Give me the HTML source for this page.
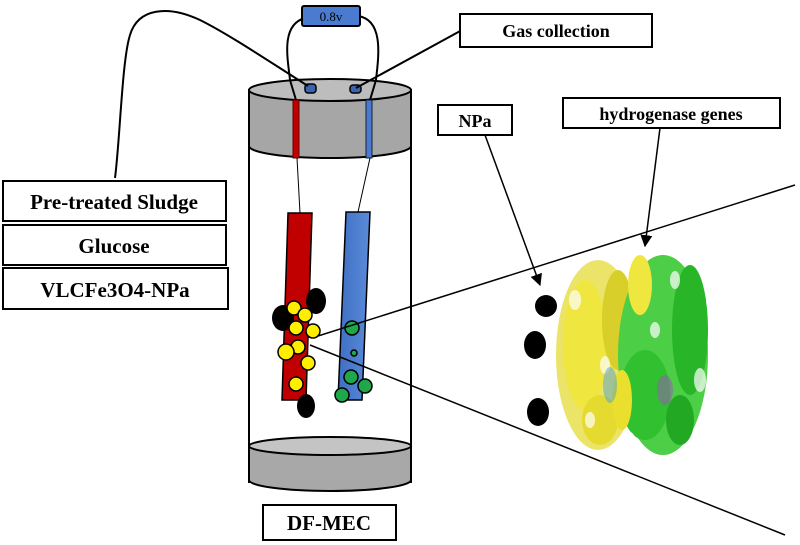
<!DOCTYPE html>
<html><head><style>
body{margin:0;background:#fff;}
svg{display:block;}
text{font-family:"Liberation Serif",serif;font-weight:bold;}
</style></head><body>
<svg width="800" height="545" viewBox="0 0 800 545" xmlns="http://www.w3.org/2000/svg">
<defs>
<marker id="ar" viewBox="0 0 10 10" refX="9" refY="5" markerWidth="8" markerHeight="8" orient="auto"><path d="M0,0 L10,5 L0,10z" fill="#000"/></marker>
<linearGradient id="bl" x1="0" x2="1"><stop offset="0" stop-color="#3e6fc4"/><stop offset="1" stop-color="#5b8ad8"/></linearGradient>
</defs>
<rect x="249" y="90" width="162" height="392" fill="#fff" stroke="#000" stroke-width="2"/>
<path d="M249,446 L249,480 A81,11 0 0 0 411,480 L411,446 Z" fill="#a8a8a8" stroke="#000" stroke-width="2"/>
<ellipse cx="330" cy="446" rx="81" ry="9" fill="#c4c4c4" stroke="#000" stroke-width="2"/>
<path d="M249,90 L249,146 A81,12 0 0 0 411,146 L411,90 Z" fill="#a6a6a6" stroke="#000" stroke-width="2"/>
<ellipse cx="330" cy="90" rx="81" ry="11" fill="#bdbdbd" stroke="#000" stroke-width="2"/>
<rect x="293" y="100" width="6" height="58" fill="#c00000" stroke="#600" stroke-width="1"/>
<rect x="366" y="100" width="6" height="58" fill="#4a7bd0" stroke="#123" stroke-width="1"/>
<rect x="305" y="84" width="11" height="9" rx="3" fill="#3a64b0" stroke="#000" stroke-width="1.5"/>
<rect x="350" y="85" width="11" height="8" rx="3" fill="#3a64b0" stroke="#000" stroke-width="1.5"/>
<path d="M305,18 C280,25 288,60 290,80 L296,100" fill="none" stroke="#000" stroke-width="2"/>
<path d="M358,16 C385,20 378,60 376,80 L370,100" fill="none" stroke="#000" stroke-width="2"/>
<path d="M115,178 C120,140 122,60 130,35 C138,8 168,5 200,20 C230,35 270,62 308,86" fill="none" stroke="#000" stroke-width="2"/>
<line x1="462" y1="30" x2="356" y2="88" stroke="#000" stroke-width="2"/>
<line x1="297" y1="158" x2="300" y2="213" stroke="#000" stroke-width="1"/>
<line x1="370" y1="158" x2="358" y2="212" stroke="#000" stroke-width="1"/>
<rect x="302" y="6" width="58" height="20" rx="2" fill="#4a7bd0" stroke="#000" stroke-width="2"/>
<text x="331" y="21" text-anchor="middle" font-size="13" style="font-weight:normal" fill="#000">0.8v</text>
<polygon points="288,213 312,213 306,400 282,400" fill="#c00000" stroke="#000" stroke-width="1.5"/>
<polygon points="346,212 370,212 362,400 338,400" fill="url(#bl)" stroke="#000" stroke-width="1.5"/>
<ellipse cx="316" cy="301" rx="10" ry="13" fill="#000"/>
<ellipse cx="283" cy="318" rx="11" ry="13" fill="#000"/>
<ellipse cx="306" cy="406" rx="9" ry="12" fill="#000"/>
<g fill="#ffee00" stroke="#000" stroke-width="1.5">
<circle cx="294" cy="308" r="7"/><circle cx="305" cy="315" r="7"/><circle cx="296" cy="328" r="7"/>
<circle cx="313" cy="331" r="7"/><circle cx="298" cy="347" r="7"/><circle cx="286" cy="352" r="8"/>
<circle cx="308" cy="363" r="7"/><circle cx="296" cy="384" r="7"/>
</g>
<g fill="#1fa84a" stroke="#000" stroke-width="1.5">
<circle cx="352" cy="328" r="7"/><circle cx="354" cy="353" r="3"/><circle cx="351" cy="377" r="7"/>
<circle cx="365" cy="386" r="7"/><circle cx="342" cy="395" r="7"/>
</g>
<line x1="318" y1="336" x2="795" y2="185" stroke="#000" stroke-width="1.5"/>
<line x1="310" y1="345" x2="785" y2="535" stroke="#000" stroke-width="1.5"/>
<g>
<ellipse cx="598" cy="355" rx="42" ry="95" fill="#ece468"/>
<ellipse cx="585" cy="345" rx="22" ry="65" fill="#f0e640"/>
<ellipse cx="618" cy="320" rx="16" ry="50" fill="#d9cf2a"/>
<ellipse cx="600" cy="420" rx="18" ry="25" fill="#e5db30"/>
<ellipse cx="663" cy="355" rx="45" ry="100" fill="#4ccf46"/>
<ellipse cx="690" cy="330" rx="18" ry="65" fill="#28b528"/>
<ellipse cx="645" cy="395" rx="25" ry="45" fill="#30c030"/>
<ellipse cx="680" cy="420" rx="14" ry="25" fill="#22a822"/>
<ellipse cx="622" cy="400" rx="10" ry="30" fill="#e9df2c"/>
<ellipse cx="640" cy="285" rx="12" ry="30" fill="#f0e640"/>
<g fill="#fff" opacity="0.7">
<ellipse cx="575" cy="300" rx="6" ry="10"/><ellipse cx="605" cy="365" rx="5" ry="9"/>
<ellipse cx="590" cy="420" rx="5" ry="8"/><ellipse cx="655" cy="330" rx="5" ry="8"/>
<ellipse cx="700" cy="380" rx="6" ry="12"/><ellipse cx="675" cy="280" rx="5" ry="9"/>
<ellipse cx="630" cy="440" rx="5" ry="8"/><ellipse cx="710" cy="300" rx="4" ry="10"/>
</g>
<ellipse cx="610" cy="385" rx="7" ry="18" fill="#52a0c8" opacity="0.5"/>
<ellipse cx="665" cy="390" rx="8" ry="15" fill="#a050c0" opacity="0.5"/>
</g>
<circle cx="546" cy="306" r="11" fill="#000"/>
<ellipse cx="535" cy="345" rx="11" ry="14" fill="#000"/>
<ellipse cx="538" cy="412" rx="11" ry="14" fill="#000"/>
<line x1="485" y1="135" x2="540" y2="285" stroke="#000" stroke-width="1.5" marker-end="url(#ar)"/>
<line x1="660" y1="128" x2="645" y2="246" stroke="#000" stroke-width="1.5" marker-end="url(#ar)"/>
<g fill="#fff" stroke="#000" stroke-width="2">
<rect x="460" y="14" width="192" height="33"/>
<rect x="438" y="105" width="74" height="30"/>
<rect x="563" y="98" width="217" height="30"/>
<rect x="3" y="181" width="223" height="40"/>
<rect x="3" y="225" width="223" height="40"/>
<rect x="3" y="268" width="225" height="41"/>
<rect x="263" y="505" width="133" height="35"/>
</g>
<g fill="#000" text-anchor="middle">
<text x="556" y="37" font-size="18">Gas collection</text>
<text x="475" y="127" font-size="18">NPa</text>
<text x="671" y="120" font-size="18">hydrogenase genes</text>
<text x="114" y="209" font-size="21">Pre-treated Sludge</text>
<text x="114" y="253" font-size="21">Glucose</text>
<text x="115" y="297" font-size="21">VLCFe3O4-NPa</text>
<text x="329" y="530" font-size="21">DF-MEC</text>
</g>
</svg>
</body></html>
